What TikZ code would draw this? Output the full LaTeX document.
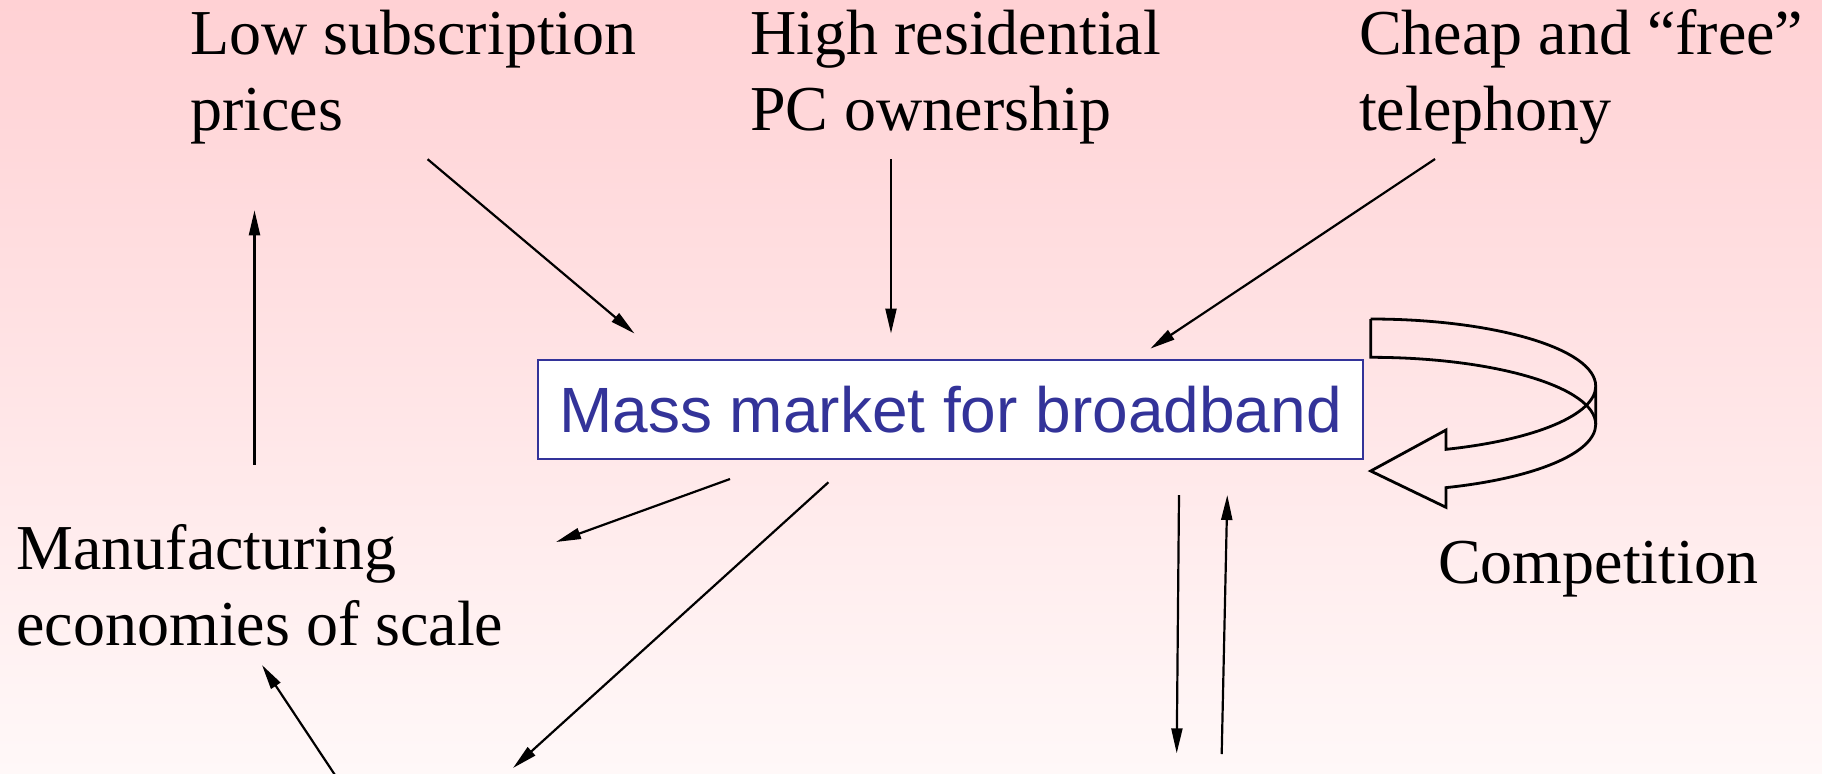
\documentclass[tikz,border=0pt]{standalone}
\usepackage{fontspec}
\setmainfont{Liberation Serif}
\newfontfamily\boxfont{Liberation Sans}
\usetikzlibrary{arrows.meta}
\definecolor{bgtop}{RGB}{255,209,212}
\definecolor{bgbot}{RGB}{255,248,248}
\definecolor{boxblue}{RGB}{51,51,153}
\tikzset{
  lbl/.style={anchor=base west, inner sep=0pt, font=\fontsize{32}{38.35}\selectfont},
  mainbox/.style={draw=boxblue, line width=1pt, fill=white, text=boxblue,
    minimum width=412.5pt, minimum height=49.5pt, inner sep=0pt,
    font=\boxfont\fontsize{32}{38}\selectfont},
  arr/.style={line width=1.1pt, -{Triangle[length=12.5pt,width=5.5pt]}},
  rib/.style={line width=1.4pt, line join=miter}
}
\begin{document}
\begin{tikzpicture}[x=0.5pt,y=-0.5pt]
\useasboundingbox (0,0) rectangle (1822,773);
\clip (0,0) rectangle (1822,773);
\fill[top color=bgtop,bottom color=bgbot] (0,0) rectangle (1822,773);

% labels
\node[lbl] (low) at (190,54) {\begin{tabular}[t]{@{}l@{}}Low subscription\\prices\end{tabular}};
\node[lbl] (high) at (750,54) {\begin{tabular}[t]{@{}l@{}}High residential\\PC ownership\end{tabular}};
\node[lbl] (cheap) at (1358.7,54) {\begin{tabular}[t]{@{}l@{}}Cheap and “free”\\telephony\end{tabular}};
\node[lbl] (manu) at (16,569) {\begin{tabular}[t]{@{}l@{}}Manufacturing\\economies of scale\end{tabular}};
\node[lbl] (comp) at (1437.7,583.3) {Competition};

% main box
\node[mainbox] (mm) at (950.5,409.5) {Mass market for broadband};

% connector end points
\coordinate (a1s) at (427.6,159.2);  \coordinate (a1e) at (634.5,333.5);
\coordinate (a2s) at (891,159);      \coordinate (a2e) at (891,333.5);
\coordinate (a3s) at (1435,159);     \coordinate (a3e) at (1150.4,348.6);
\coordinate (a4s) at (254.5,464.8);  \coordinate (a4e) at (254.5,210.3);
\coordinate (a5s) at (730,479);      \coordinate (a5e) at (556,542);
\coordinate (a6s) at (828.4,482.3);  \coordinate (a6e) at (513,768);
\coordinate (a7s) at (335,775);      \coordinate (a7e) at (262,665);
\coordinate (a8s) at (1179,495);     \coordinate (a8e) at (1176.7,753.3);
\coordinate (a9s) at (1221.7,754);   \coordinate (a9e) at (1227.3,495);

\draw[arr] (a1s) -- (a1e);
\draw[arr] (a2s) -- (a2e);
\draw[arr] (a3s) -- (a3e);
\draw[arr] (a4s) -- (a4e);
\draw[arr] (a5s) -- (a5e);
\draw[arr] (a6s) -- (a6e);
\draw[arr] (a7s) -- (a7e);
\draw[arr] (a8s) -- (a8e);
\draw[arr] (a9s) -- (a9e);

% curved ribbon arrow (competition loop)
\coordinate (r1) at (1370.7,319);
\coordinate (r2) at (1370.7,357.3);
\coordinate (rb1) at (1446,507.3);
\coordinate (rtip) at (1370.7,471);
\coordinate (rb2) at (1446,430);
\coordinate (rft) at (1446,449.33);
\draw[rib] (r1) arc[start angle=-90,end angle=0,x radius=225,y radius=67.1]
  -- ++(0,38.3)
  arc[start angle=0,end angle=70.45,x radius=225,y radius=67.1]
  -- (rb1) -- (rtip) -- (rb2) -- (rft)
  arc[start angle=70.45,end angle=0,x radius=225,y radius=67.1];
\draw[rib] (r1) -- (r2)
  arc[start angle=-90,end angle=0,x radius=225,y radius=67.1];
\end{tikzpicture}
\end{document}
